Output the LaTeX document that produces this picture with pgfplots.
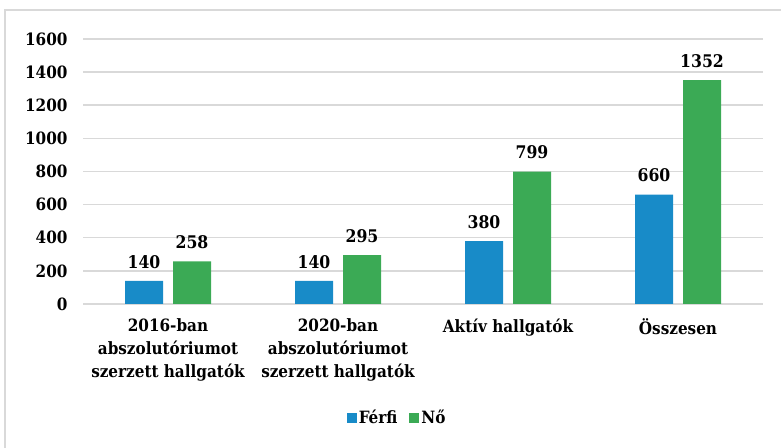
\documentclass[border=0pt]{standalone}
\usepackage{pgfplots}
\pgfplotsset{compat=1.18}
\usepackage{fontspec}
\setmainfont{DejaVu Serif Condensed}
\definecolor{cblue}{HTML}{188BC8}
\definecolor{cgreen}{HTML}{3BAA55}
\definecolor{cgrid}{HTML}{D9D9D9}
\begin{document}
\begin{tikzpicture}
\useasboundingbox (0,0) rectangle (781bp,448bp);
\draw[cgrid, line width=1.5bp] (5bp,0) -- (5bp,438bp) -- (781bp,438bp);
\begin{axis}[
  at={(83bp,144bp)}, anchor=south west,
  scale only axis, width=680bp, height=265bp,
  ymin=0, ymax=1600, ytick={0,200,...,1600},
  xmin=-0.5, xmax=3.5,
  xtick={0,1,2,3},
  xticklabels={{2016-ban\\abszolutóriumot\\szerzett hallgatók},{2020-ban\\abszolutóriumot\\szerzett hallgatók},{Aktív hallgatók},{Összesen}},
  axis line style={draw=none},
  major tick length=0pt,
  ymajorgrids, grid style={cgrid, line width=1.5bp},
  /pgf/number format/assume math mode=true,
  /pgf/number format/1000 sep={},
  font=\bfseries\fontsize{17}{20}\selectfont,
  yticklabel style={xshift=-12bp},
  xticklabel style={align=center, yshift=-11bp, font=\bfseries\fontsize{17}{23}\selectfont},
  ybar, bar width=38bp,
  nodes near coords,
  nodes near coords style={font=\bfseries\fontsize{17.5}{20}\selectfont, yshift=9bp},
  legend style={at={(0.462,-0.43)}, anchor=center, draw=none, legend columns=2, font=\bfseries\fontsize{17}{20}\selectfont, /tikz/every even column/.append style={column sep=10bp}},
  legend image code/.code={\fill[#1] (0,-5bp) rectangle (10bp,5bp);},
]
\addplot[fill=cblue, draw=none, bar shift=-24bp] coordinates {(0,140) (1,140) (2,380) (3,660)};
\addplot[fill=cgreen, draw=none, bar shift=24bp] coordinates {(0,258) (1,295) (2,799) (3,1352)};
\legend{Férfi, Nő}
\end{axis}
\end{tikzpicture}
\end{document}
